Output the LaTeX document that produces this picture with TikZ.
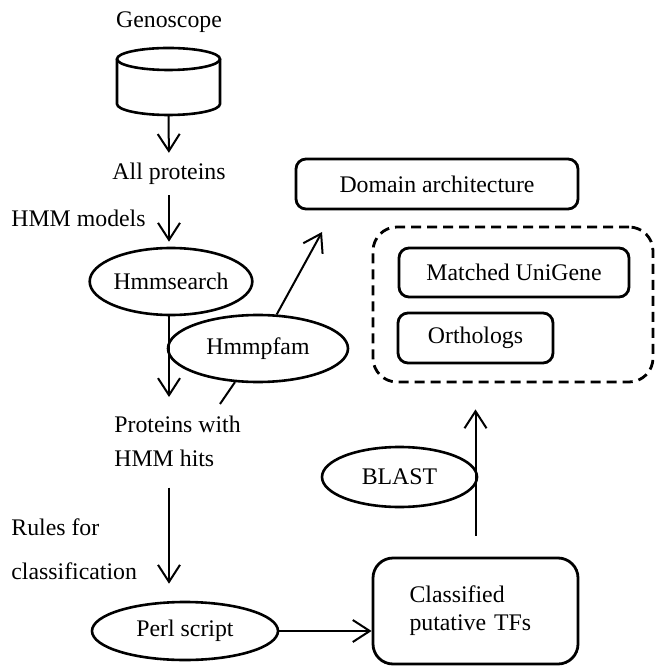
\documentclass[tikz,border=0pt]{standalone}
\usepackage{fontspec}
\setmainfont{Liberation Serif}
\usetikzlibrary{shapes.geometric,arrows.meta}
\begin{document}
\begin{tikzpicture}[x=0.5pt,y=-0.5pt,
  every node/.style={font=\fontsize{11.9}{14}\selectfont},
  lbl/.style={inner sep=0pt},
  proc/.style={draw,ellipse,line width=1.3pt,inner sep=0pt},
  rbox/.style={draw,rounded corners=5pt,line width=1.4pt,inner sep=0pt},
  conn/.style={line width=1pt},
  arr/.style={conn,-{Straight Barb[length=8.5pt,width=11pt,line width=1pt]}}
]
\useasboundingbox (0,0) rectangle (654,667);
% database cylinder
\draw[line width=1.3pt] (117,59) -- (117,104) arc[start angle=180,end angle=360,x radius=25.75pt,y radius=5.5pt] -- (220,59);
\draw[line width=1.3pt] (168.5,59) ellipse[x radius=25.75pt,y radius=5.5pt];
\coordinate (geno) at (168.5,115);
\node[lbl] (genotxt) at (169,22) {Genoscope};
\node[lbl] (allprot) at (169,174) {All proteins};
\node[lbl,anchor=west] (hmmmod) at (11,218) {HMM models};
\node[proc,minimum width=75pt,minimum height=33.5pt] (hmms) at (171,281.5) {Hmmsearch};
\node[proc,minimum width=90pt,minimum height=33.5pt] (hmmp) at (258,348.5) {Hmmpfam};
\node[lbl,anchor=north west,align=left,font=\fontsize{11.9}{17}\selectfont] (prot) at (114,416) {Proteins with\\HMM hits};
\node[lbl,anchor=north west,align=left,font=\fontsize{11.9}{22}\selectfont] (rules) at (11,518) {Rules for\\classification};
\node[proc,minimum width=93pt,minimum height=29pt] (perl) at (185,631) {Perl script};
\node[rbox,rounded corners=10pt,minimum width=102.5pt,minimum height=53pt,align=left,text width=66pt,inner xsep=18.25pt] (tfs) at (475.5,611) {Classified\\putative TFs};
\node[proc,minimum width=77.5pt,minimum height=30pt] (blast) at (399.5,477) {BLAST};
\node[rbox,minimum width=141pt,minimum height=25pt] (domain) at (437,184) {Domain architecture};
\node[draw,dashed,dash pattern=on 5pt off 3pt,rounded corners=12pt,line width=1.4pt,minimum width=140pt,minimum height=77.5pt] (group) at (513,304.5) {};
\node[rbox,minimum width=115pt,minimum height=24.5pt] (unigene) at (514,272.5) {Matched UniGene};
\node[rbox,minimum width=77.5pt,minimum height=25pt] (ortho) at (475.5,338) {Orthologs};
\coordinate (pstart) at (220,404);
\coordinate (domtip) at (322,232);
% connectors
\draw[arr,shorten >=5pt] (geno) -- (allprot.north);
\draw[arr,shorten <=5pt,shorten >=2.5pt] (allprot.south) -- (allprot.south |- hmms.north);
\draw[arr,shorten >=9.5pt] (hmms.south -| allprot.south) -- (allprot.south |- prot.north);
\draw[conn] (pstart) -- (hmmp);
\draw[arr] (hmmp) -- (domtip);
\draw[arr,shorten <=10pt,shorten >=8.5pt] (allprot.south |- prot.south) -- (allprot.south |- perl.north);
\draw[arr] (perl.east) -- (perl.east -| tfs.west);
\draw[arr,shorten <=10.5pt,shorten >=13pt] (tfs.north) -- (tfs.north |- group.south);
\end{tikzpicture}
\end{document}
